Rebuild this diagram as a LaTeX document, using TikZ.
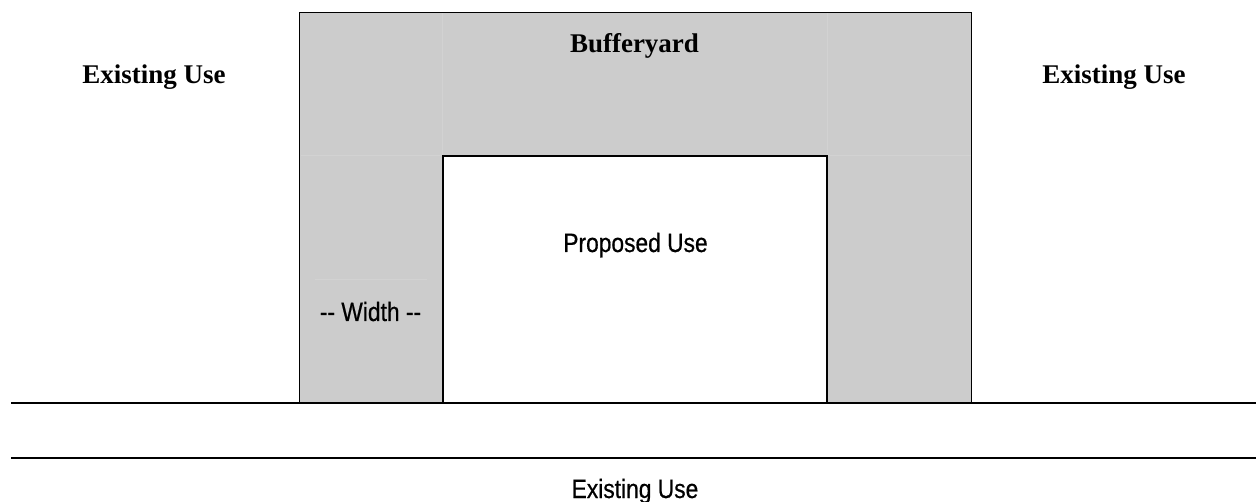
\documentclass[tikz,border=0pt]{standalone}
\usepackage{fontspec}
\setmainfont{Liberation Serif}
\newfontfamily\narrowsans[FakeStretch=0.86,FakeBold=0.6]{Liberation Sans}
\definecolor{buffergray}{HTML}{CCCCCC}
\definecolor{seamgray}{HTML}{D2D2D2}
\begin{document}
\begin{tikzpicture}[x=1pt,y=-1pt,
  serifbold/.style={font=\fontsize{27}{30}\selectfont\bfseries, anchor=base, inner sep=0pt},
  sanslabel/.style={font=\narrowsans\fontsize{26.5}{30}\selectfont, anchor=base, inner sep=0pt},
  edge/.style={line width=1.2pt, black},
  seam/.style={line width=0.8pt, seamgray}]
\useasboundingbox (0,0) rectangle (1256,502);
% bufferyard area
\fill[buffergray] (299.5,12.5) -- (971.5,12.5) -- (971.5,403) -- (827,403) -- (827,156) -- (443,156) -- (443,403) -- (299.5,403) -- cycle;
% faint seams
\draw[seam] (300.5,155.5) -- (442,155.5);
\draw[seam] (828,155.5) -- (970.5,155.5);
\draw[seam] (442.5,13.5) -- (442.5,155);
\draw[seam] (827.5,13.5) -- (827.5,155);
\draw[seam] (315,279) -- (427,279);
% outlines
\draw[edge] (299.5,403) -- (299.5,12.5) -- (971.5,12.5) -- (971.5,403);
\draw[edge] (443,403) -- (443,156) -- (827,156) -- (827,403);
\coordinate (l1a) at (11,403);
\coordinate (l1b) at (1256,403);
\coordinate (l2a) at (11,458);
\coordinate (l2b) at (1256,458);
\draw[edge] (l1a) -- (l1b);
\draw[edge] (l2a) -- (l2b);
% labels
\node[serifbold] (exl) at (154,84) {Existing Use};
\node[serifbold] (exr) at (1114,84) {Existing Use};
\node[serifbold] (buf) at (634.5,53) {Bufferyard};
\node[sanslabel] (prop) at (635.5,252) {Proposed Use};
\node[sanslabel] (wid) at (370.5,321) {-- Width --};
\node[sanslabel] (exb) at (635,498) {Existing Use};
\end{tikzpicture}
\end{document}
